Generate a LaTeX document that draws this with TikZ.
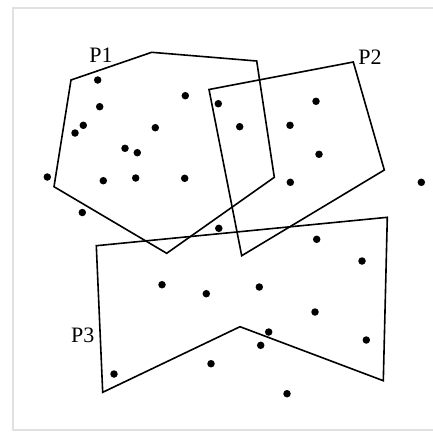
\documentclass[tikz,border=0pt]{standalone}
\usepackage{fontspec}
\setmainfont{Liberation Serif}
\begin{document}
\begin{tikzpicture}[x=1pt,y=-1pt,
  poly/.style={draw=black,line width=1.6pt,line join=miter},
  pt/.style={circle,fill=black,inner sep=0pt,minimum size=7.5pt},
  lbl/.style={inner sep=0pt,font=\fontsize{22}{26}\selectfont}]
\useasboundingbox (0,0) rectangle (433,432);
\begin{scope}
\clip (0,0) rectangle (433,432);
\draw[draw={rgb,255:red,225;green,225;blue,225},line width=2.2pt] (13,8) rectangle (445,430);
\end{scope}
% P1
\coordinate (a1) at (71,80);
\coordinate (a2) at (151.7,52.3);
\coordinate (a3) at (256.7,61);
\coordinate (a4) at (274.3,177.3);
\coordinate (a5) at (166.7,253.3);
\coordinate (a6) at (54,186.7);
\draw[poly] (a1)--(a2)--(a3)--(a4)--(a5)--(a6)--cycle;
% P2
\coordinate (b1) at (209,89.5);
\coordinate (b2) at (353.3,62);
\coordinate (b3) at (384.3,170);
\coordinate (b4) at (241.7,255.7);
\draw[poly] (b1)--(b2)--(b3)--(b4)--cycle;
% P3
\coordinate (c1) at (96.3,245.7);
\coordinate (c2) at (387.3,217.3);
\coordinate (c3) at (383.3,380.7);
\coordinate (c4) at (240,326.7);
\coordinate (c5) at (102.7,392.3);
\draw[poly] (c1)--(c2)--(c3)--(c4)--(c5)--cycle;
% labels
\node[lbl] (l1) at (101,55) {P1};
\node[lbl] (l2) at (370,57) {P2};
\node[lbl] (l3) at (82.7,335) {P3};
% points
\foreach \x/\y [count=\i] in {
97.7/80, 185.3/95.7, 99.7/106.7, 83.3/125.3, 75/133, 155.3/127.7,
125/148.3, 137.3/152.7, 47.3/177, 103.3/180.7, 135.7/178, 184.7/178.3,
82.3/212.5,
218.3/103.7, 316/101.3, 239.7/126.7, 290/125.3, 319/154.3, 290.3/182.3, 421.3/182.3,
218.8/228.3, 162/284.7, 206.3/293.7, 211/363.7, 114/374,
316.7/239.3, 362/261, 259.3/287, 315/312, 268.7/332, 260.7/345.3, 366.3/340, 287/393.7}
  \node[pt] (p\i) at (\x,\y) {};
\end{tikzpicture}
\end{document}
